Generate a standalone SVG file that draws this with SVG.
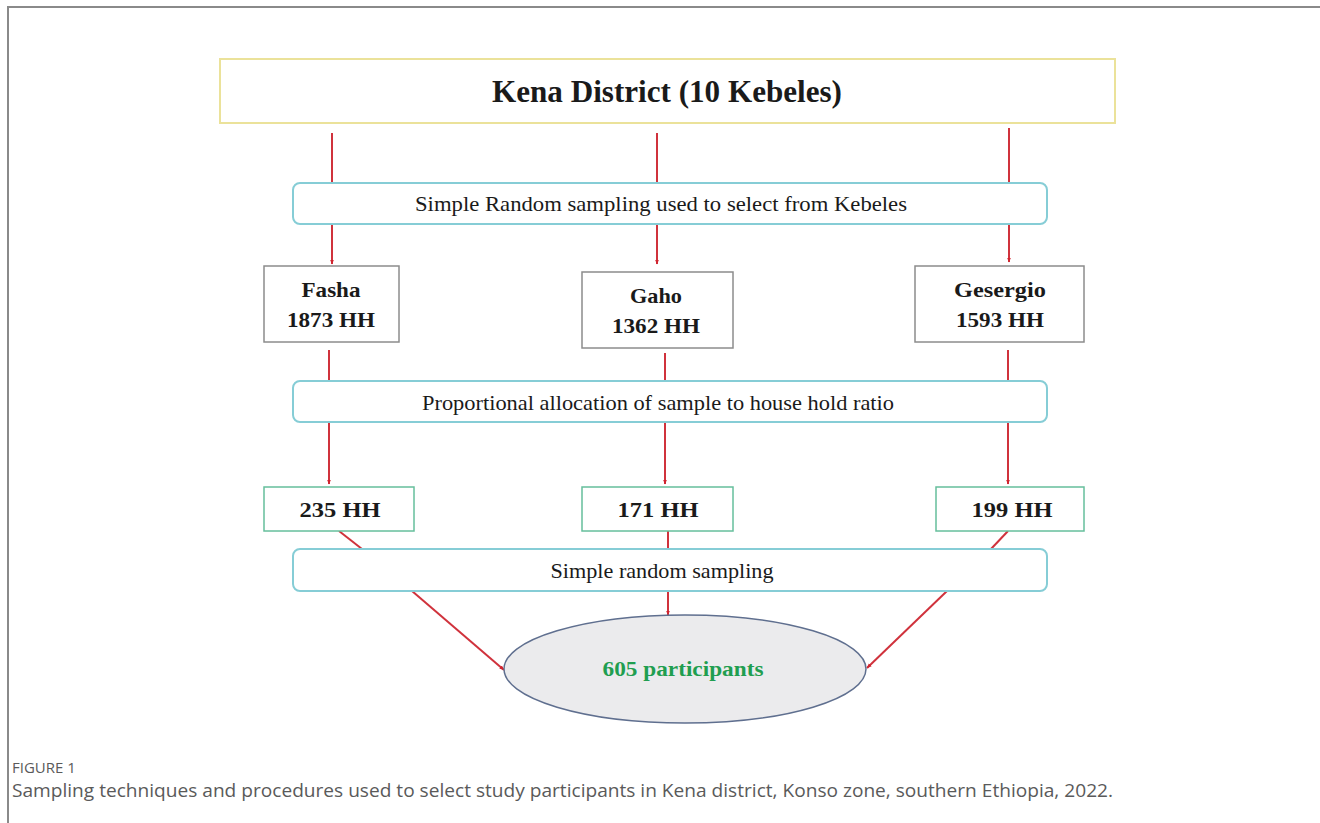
<svg xmlns="http://www.w3.org/2000/svg" width="1320" height="823" viewBox="0 0 1320 823">
<defs>
<marker id="ah" viewBox="0 0 10 10" refX="9" refY="5" markerWidth="5" markerHeight="5" orient="auto" markerUnits="userSpaceOnUse">
<path d="M0,1 L10,5 L0,9 Z" fill="#d0232e"/>
</marker>
<style>
.frame{fill:none;stroke:#8a8a8a;stroke-width:2}
.top{fill:#fff;stroke:#ebe29a;stroke-width:2}
.blue{fill:#fff;stroke:#86cdd6;stroke-width:2}
.gray{fill:#fff;stroke:#8c8c8c;stroke-width:1.5}
.green{fill:#fff;stroke:#66bf9c;stroke-width:1.5}
.ell{fill:#ebebed;stroke:#5f6f8f;stroke-width:1.5}
.ln{stroke:#d0323c;stroke-width:2;fill:none}
.t{font-family:"Liberation Serif",serif;fill:#1a1a1a;text-anchor:middle}
.b{font-weight:bold}
.cap{font-family:"Open Sans","Noto Sans",sans-serif;fill:#5a5a5a}
</style>
</defs>
<rect x="0" y="0" width="1320" height="823" fill="#fff"/>
<path class="frame" d="M8,823 V7 H1320"/>

<g id="connectors">
<line class="ln" x1="332" y1="133" x2="332" y2="183"/>
<line class="ln" x1="657" y1="133" x2="657" y2="183"/>
<line class="ln" x1="1009" y1="128" x2="1009" y2="183"/>
<line class="ln" x1="332" y1="224" x2="332" y2="264" marker-end="url(#ah)"/>
<line class="ln" x1="657" y1="224" x2="657" y2="264" marker-end="url(#ah)"/>
<line class="ln" x1="1009" y1="224" x2="1009" y2="262" marker-end="url(#ah)"/>
<line class="ln" x1="329" y1="350" x2="329" y2="381"/>
<line class="ln" x1="665" y1="353" x2="665" y2="381"/>
<line class="ln" x1="1008" y1="350" x2="1008" y2="381"/>
<line class="ln" x1="329" y1="422" x2="329" y2="484" marker-end="url(#ah)"/>
<line class="ln" x1="665" y1="422" x2="665" y2="484" marker-end="url(#ah)"/>
<line class="ln" x1="1008" y1="422" x2="1008" y2="484" marker-end="url(#ah)"/>
<line class="ln" x1="339" y1="531" x2="362" y2="549"/>
<line class="ln" x1="668" y1="525" x2="668" y2="549"/>
<line class="ln" x1="1008" y1="531" x2="991" y2="549"/>
<line class="ln" x1="412" y1="591" x2="504" y2="670" marker-end="url(#ah)"/>
<line class="ln" x1="668" y1="591" x2="668" y2="615" marker-end="url(#ah)"/>
<line class="ln" x1="947" y1="591" x2="867" y2="668" marker-end="url(#ah)"/>
</g>

<g id="kena">
<rect class="top" x="220" y="59" width="895" height="64"/>
<text class="t b" x="667" y="102" font-size="31" textLength="350" lengthAdjust="spacingAndGlyphs">Kena District (10 Kebeles)</text>
</g>

<g id="srs1">
<rect class="blue" x="293" y="183" width="754" height="41" rx="7"/>
<text class="t" x="661" y="211" font-size="21" textLength="492" lengthAdjust="spacingAndGlyphs">Simple Random sampling used to select from Kebeles</text>
</g>

<g id="fasha">
<rect class="gray" x="264" y="266" width="135" height="76"/>
<text class="t b" x="331" y="297" font-size="21" textLength="59" lengthAdjust="spacingAndGlyphs">Fasha</text>
<text class="t b" x="331" y="327" font-size="21" textLength="88" lengthAdjust="spacingAndGlyphs">1873 HH</text>
</g>

<g id="gaho">
<rect class="gray" x="582" y="272" width="151" height="76"/>
<text class="t b" x="656" y="303" font-size="21" textLength="52" lengthAdjust="spacingAndGlyphs">Gaho</text>
<text class="t b" x="656" y="333" font-size="21" textLength="88" lengthAdjust="spacingAndGlyphs">1362 HH</text>
</g>

<g id="gesergio">
<rect class="gray" x="915" y="266" width="169" height="76"/>
<text class="t b" x="1000" y="297" font-size="21" textLength="92" lengthAdjust="spacingAndGlyphs">Gesergio</text>
<text class="t b" x="1000" y="327" font-size="21" textLength="88" lengthAdjust="spacingAndGlyphs">1593 HH</text>
</g>

<g id="prop">
<rect class="blue" x="293" y="381" width="754" height="41" rx="7"/>
<text class="t" x="658" y="410" font-size="21" textLength="472" lengthAdjust="spacingAndGlyphs">Proportional allocation of sample to house hold ratio</text>
</g>

<g id="hh235">
<rect class="green" x="264" y="487" width="150" height="44"/>
<text class="t b" x="340" y="517" font-size="21" textLength="81" lengthAdjust="spacingAndGlyphs">235 HH</text>
</g>

<g id="hh171">
<rect class="green" x="582" y="487" width="151" height="44"/>
<text class="t b" x="658" y="517" font-size="21" textLength="81" lengthAdjust="spacingAndGlyphs">171 HH</text>
</g>

<g id="hh199">
<rect class="green" x="936" y="487" width="148" height="44"/>
<text class="t b" x="1012" y="517" font-size="21" textLength="81" lengthAdjust="spacingAndGlyphs">199 HH</text>
</g>

<g id="srs2">
<rect class="blue" x="293" y="549" width="754" height="42" rx="7"/>
<text class="t" x="662" y="578" font-size="21" textLength="223" lengthAdjust="spacingAndGlyphs">Simple random sampling</text>
</g>

<g id="participants">
<ellipse class="ell" cx="685" cy="669" rx="181" ry="54"/>
<text class="t b" x="683" y="676" font-size="21" textLength="161" lengthAdjust="spacingAndGlyphs" style="fill:#1f9e50">605 participants</text>
</g>

<g id="caption">
<text class="cap" x="12" y="773" font-size="15">FIGURE 1</text>
<text class="cap" x="12" y="797" font-size="19" textLength="1101" lengthAdjust="spacingAndGlyphs">Sampling techniques and procedures used to select study participants in Kena district, Konso zone, southern Ethiopia, 2022.</text>
</g>
</svg>
